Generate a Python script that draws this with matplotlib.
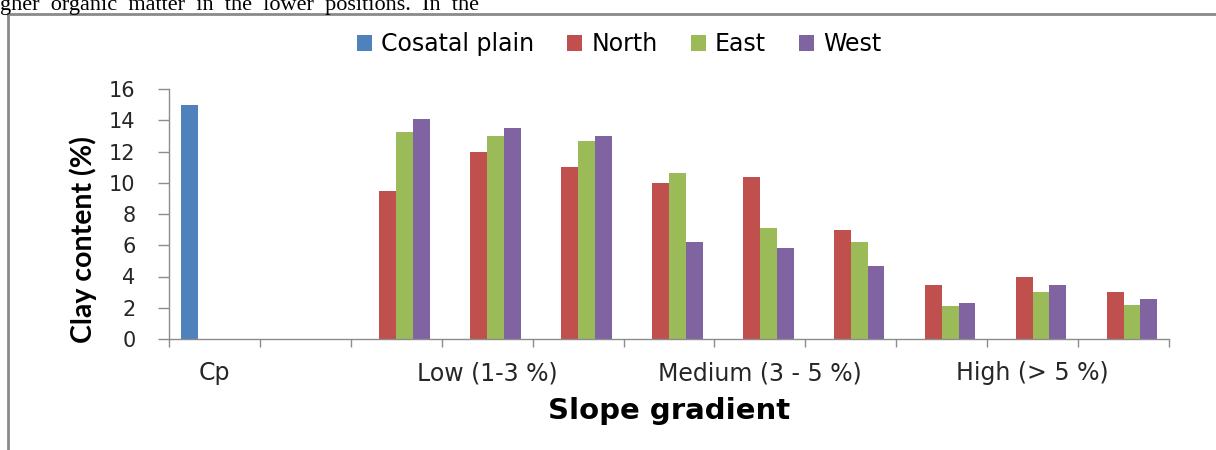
import numpy as np
import matplotlib
matplotlib.use("Agg")
import matplotlib.pyplot as plt
from matplotlib.lines import Line2D

# ---- data ----
slot_labels = ["Cp", "", "", "Low (1-3 %)", "", "", "Medium (3 - 5 %)", "", "", "High (> 5 %)", ""]
series_names = ["Cosatal plain", "North", "East", "West"]
coastal = [15.0, np.nan, np.nan, np.nan, np.nan, np.nan, np.nan, np.nan, np.nan, np.nan, np.nan]
north = [np.nan, np.nan, 9.5, 12.0, 11.0, 10.0, 10.4, 7.0, 3.45, 3.95, 3.0]
east = [np.nan, np.nan, 13.25, 13.0, 12.65, 10.6, 7.1, 6.2, 2.1, 3.0, 2.15]
west = [np.nan, np.nan, 14.1, 13.5, 13.0, 6.2, 5.8, 4.7, 2.3, 3.45, 2.55]
colors = ["#4F81BD", "#C0504D", "#9BBB59", "#8064A2"]
yticks = [0, 2, 4, 6, 8, 10, 12, 14, 16]

plt.rcParams['font.family'] = ['DejaVu Sans']

fig = plt.figure(figsize=(12.16, 4.5), dpi=100)
W, H = 1216, 450

# page text fragment and frame
fig.text(0.0, 1 - 10 / H, "gher  organic  matter  in  the  lower  positions.  In  the",
         family=['Liberation Serif'], fontsize=16, va='baseline', ha='left', color='black')
fig.add_artist(Line2D([8 / W, 8 / W], [0, 1 - 14 / H], color='#8a8a8a', lw=2, transform=fig.transFigure))
fig.add_artist(Line2D([8 / W, 1], [1 - 14 / H, 1 - 14 / H], color='#8a8a8a', lw=2, transform=fig.transFigure))

ax = fig.add_axes([169 / W, 1 - 339 / H, 1000 / W, 250 / H])
x = np.arange(len(slot_labels))
w = 0.185
for i, (vals, c, name) in enumerate(zip([coastal, north, east, west], colors, series_names)):
    ax.bar(x + (i - 1.5) * w, vals, width=w, color=c, label=name, edgecolor='none')

ax.set_xlim(-0.5, len(slot_labels) - 0.5)
ax.set_ylim(0, 16)
ax.set_yticks(yticks)
ax.set_yticklabels([str(v) for v in yticks], fontsize=15, color='#262626')
ax.set_xticks(x)
ax.set_xticklabels(slot_labels, fontsize=17, color='#262626')
ax.set_xticks(np.arange(-0.5, len(slot_labels), 1.0), minor=True)
ax.tick_params(axis='x', which='major', length=0, pad=16)
ax.tick_params(axis='x', which='minor', length=6, color='#8c8c8c', width=1)
ax.tick_params(axis='y', length=8, color='#8c8c8c', width=1, pad=16)
for s in ['top', 'right']:
    ax.spines[s].set_visible(False)
for s in ['left', 'bottom']:
    ax.spines[s].set_color('#8c8c8c')
    ax.spines[s].set_linewidth(1)

ax.set_ylabel("Clay content (%)", fontsize=20.5, fontweight='bold', family=['Lato', 'DejaVu Sans'])
ax.yaxis.set_label_coords(-0.072, 0.396)
ax.set_xlabel("Slope gradient", fontsize=21, fontweight='bold')
ax.xaxis.set_label_coords(0.5, -0.232)

handles, labels = ax.get_legend_handles_labels()
fig.legend(handles, labels, loc='center left', bbox_to_anchor=(357 / W, 1 - 44 / H), ncol=4,
           frameon=False, fontsize=17, borderpad=0, borderaxespad=0,
           handlelength=0.64, handleheight=0.64, handletextpad=0.38, columnspacing=1.4)

fig.savefig("out.png", dpi=100)
